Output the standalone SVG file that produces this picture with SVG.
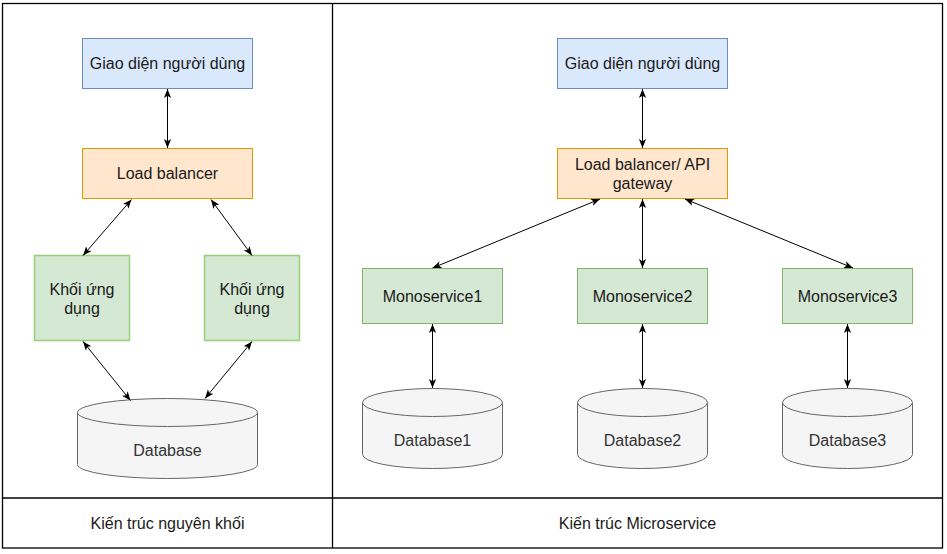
<svg xmlns="http://www.w3.org/2000/svg" width="947" height="554" viewBox="0 0 947 554">
<style>
text{font-family:"Liberation Sans",Arial,sans-serif;font-size:16px;fill:#1a1a1a;text-anchor:middle}
.frame{fill:none;stroke:#000;stroke-width:1.3}
.ui{fill:#dae8fc;stroke:#6c8ebf}
.lb{fill:#ffe6cc;stroke:#d79b00}
.app{fill:#d5e8d4;stroke:#97d077;stroke-width:1.5}
.ms{fill:#d5e8d4;stroke:#82b366}
.db{fill:#f5f5f5;stroke:#666}
.dbt{fill:#333}
.c line{stroke:#000;stroke-width:1;marker-start:url(#a);marker-end:url(#a)}
</style>
<defs>
<marker id="a" viewBox="0 0 10 10" refX="10" refY="5" markerWidth="9" markerHeight="9" markerUnits="userSpaceOnUse" orient="auto-start-reverse">
<path d="M0,1 L10,5 L0,9 L2.5,5 Z" fill="#000"/>
</marker>
</defs>
<rect width="947" height="554" fill="#fff"/>
<g id="frame">
<rect class="frame" x="2.5" y="3.5" width="940" height="544.5"/>
<line class="frame" x1="332.5" y1="3.5" x2="332.5" y2="548"/>
<line class="frame" x1="2.5" y1="498" x2="942.5" y2="498"/>
</g>
<g id="lbl-mono"><text x="167.5" y="528.5">Kiến trúc nguyên khối</text></g>
<g id="lbl-micro"><text x="637.5" y="528.5">Kiến trúc Microservice</text></g>

<g id="ui1"><rect class="ui" x="82.5" y="38.5" width="170" height="50"/><text x="167.5" y="69">Giao diện người dùng</text></g>
<g id="lb1"><rect class="lb" x="82.5" y="148.5" width="170" height="50"/><text x="167.5" y="179">Load balancer</text></g>
<g id="app1"><rect class="app" x="34.5" y="255.5" width="95" height="85"/><text x="82" y="295">Khối ứng</text><text x="82" y="314">dụng</text></g>
<g id="app2"><rect class="app" x="204.5" y="255.5" width="95" height="85"/><text x="252" y="295">Khối ứng</text><text x="252" y="314">dụng</text></g>
<g id="db0"><path class="db" d="M77.5,412.5 A90,14 0 0 1 257.5,412.5 L257.5,464.5 A90,14 0 0 1 77.5,464.5 Z"/><path class="db" fill="none" d="M77.5,412.5 A90,14 0 0 0 257.5,412.5"/><text class="dbt" x="167.5" y="456">Database</text></g>

<g id="ui2"><rect class="ui" x="557.5" y="38.5" width="170" height="50"/><text x="642.5" y="69">Giao diện người dùng</text></g>
<g id="lb2"><rect class="lb" x="557.5" y="148.5" width="170" height="50"/><text x="642.5" y="169.5">Load balancer/ API</text><text x="642.5" y="188.5">gateway</text></g>
<g id="ms1"><rect class="ms" x="362.5" y="268.5" width="140" height="55"/><text x="432.5" y="301.5">Monoservice1</text></g>
<g id="ms2"><rect class="ms" x="577.5" y="268.5" width="130" height="55"/><text x="642.5" y="301.5">Monoservice2</text></g>
<g id="ms3"><rect class="ms" x="782.5" y="268.5" width="130" height="55"/><text x="847.5" y="301.5">Monoservice3</text></g>
<g id="db1"><path class="db" d="M362.5,402.5 A70,14 0 0 1 502.5,402.5 L502.5,454.5 A70,14 0 0 1 362.5,454.5 Z"/><path class="db" fill="none" d="M362.5,402.5 A70,14 0 0 0 502.5,402.5"/><text class="dbt" x="432.5" y="446">Database1</text></g>
<g id="db2"><path class="db" d="M577.5,402.5 A65,14 0 0 1 707.5,402.5 L707.5,454.5 A65,14 0 0 1 577.5,454.5 Z"/><path class="db" fill="none" d="M577.5,402.5 A65,14 0 0 0 707.5,402.5"/><text class="dbt" x="642.5" y="446">Database2</text></g>
<g id="db3"><path class="db" d="M782.5,402.5 A65,14 0 0 1 912.5,402.5 L912.5,454.5 A65,14 0 0 1 782.5,454.5 Z"/><path class="db" fill="none" d="M782.5,402.5 A65,14 0 0 0 912.5,402.5"/><text class="dbt" x="847.5" y="446">Database3</text></g>

<g id="connectors" class="c">
<line x1="167.5" y1="89" x2="167.5" y2="148"/>
<line x1="131.5" y1="199.5" x2="83" y2="255.5"/>
<line x1="211" y1="199.5" x2="252" y2="255.5"/>
<line x1="83" y1="341.5" x2="130.5" y2="400.5"/>
<line x1="252" y1="341.5" x2="205" y2="398.5"/>
<line x1="642.5" y1="89" x2="642.5" y2="148"/>
<line x1="600" y1="199" x2="432.5" y2="268"/>
<line x1="642.5" y1="199" x2="642.5" y2="268"/>
<line x1="685" y1="199" x2="853" y2="268"/>
<line x1="432.5" y1="324" x2="432.5" y2="388"/>
<line x1="642.5" y1="324" x2="642.5" y2="388"/>
<line x1="847.5" y1="324" x2="847.5" y2="388"/>
</g>
</svg>
